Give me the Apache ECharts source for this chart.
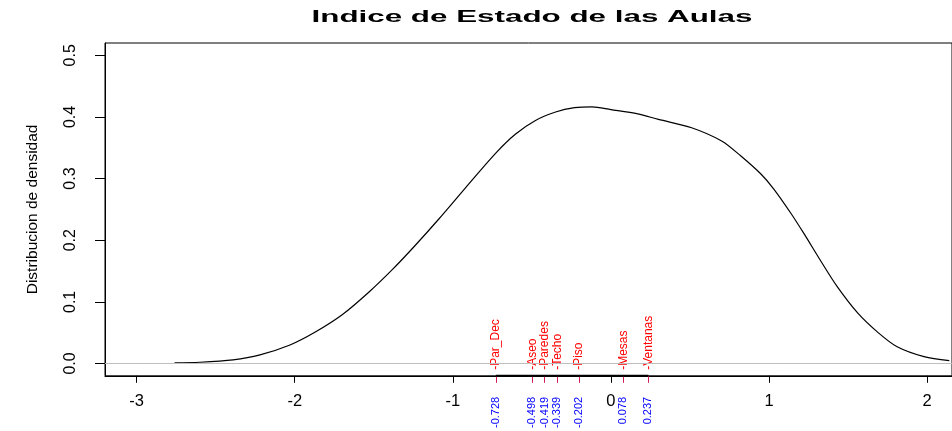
<!DOCTYPE html>
<html>
<head>
<meta charset="utf-8">
<script src="https://cdn.jsdelivr.net/npm/echarts@6/dist/echarts.min.js"></script>
<style>html,body{margin:0;padding:0;background:#fff}#c{width:952px;height:431px}</style>
</head>
<body>
<div id="c"></div>
<script>
// ---- data ----
const titleText = 'Indice de Estado de las Aulas';
const yAxisTitle = 'Distribucion de densidad';
const densX = [-2.76, -2.60, -2.39, -2.22, -2.03, -1.87, -1.70, -1.53, -1.38, -1.24, -1.09, -0.92, -0.73, -0.605, -0.48, -0.35, -0.23, -0.12, 0.00, 0.17, 0.30, 0.51, 0.70, 0.82, 0.95, 1.03, 1.14, 1.22, 1.33, 1.43, 1.56, 1.69, 1.81, 1.98, 2.14];
const densY = [0.001, 0.002, 0.006, 0.014, 0.030, 0.051, 0.079, 0.116, 0.153, 0.191, 0.234, 0.285, 0.341, 0.372, 0.394, 0.408, 0.415, 0.4165, 0.412, 0.405, 0.396, 0.3825, 0.361, 0.337, 0.307, 0.283, 0.243, 0.211, 0.165, 0.125, 0.082, 0.050, 0.027, 0.011, 0.0047];
const markerNames = ['Par_Dec', 'Aseo', 'Paredes', 'Techo', 'Piso', 'Mesas', 'Ventanas'];
const markerValues = [-0.728, -0.498, -0.419, -0.339, -0.202, 0.078, 0.237];
const xTicks = [-3, -2, -1, 0, 1, 2];
const yTicks = [0, 0.1, 0.2, 0.3, 0.4, 0.5];

// ---- axis ranges ----
const X_MIN = -3.2, X_MAX = 2.157;
const Y_MIN = -0.02, Y_MAX = 0.52;
const FONT = 'Liberation Sans';

const chart = echarts.init(document.getElementById('c'), null, {renderer: 'canvas'});

function nameFor(v) {
  let best = 0, d = Infinity;
  markerValues.forEach((m, i) => { const dd = Math.abs(m - v); if (dd < d) { d = dd; best = i; } });
  return '-' + markerNames[best];
}

const densData = densX.map((x, i) => [x, densY[i]]);
const segData = [[Math.min(...markerValues), Y_MIN], [Math.max(...markerValues), Y_MIN]];

const option = {
  animation: false,
  backgroundColor: '#ffffff',
  graphic: [{
    type: 'text',
    x: 532, y: 18, scaleX: 1.96,
    style: {
      text: titleText,
      font: 'bold 16px "Liberation Sans"',
      fill: '#000',
      textAlign: 'center',
      textVerticalAlign: 'middle'
    }
  }],
  grid: {left: 105, top: 43, right: -3, bottom: 53, show: true, borderColor: '#000', borderWidth: 1, backgroundColor: 'transparent'},
  xAxis: [
    {
      type: 'value', min: X_MIN, max: X_MAX, position: 'bottom',
      axisLine: {show: true, onZero: false, lineStyle: {color: '#000', width: 1}},
      axisTick: {show: true, length: 7, lineStyle: {color: '#000'}, customValues: xTicks},
      axisLabel: {show: true, customValues: xTicks, margin: 17, fontSize: 16.5, fontFamily: FONT, color: '#000',
        formatter: v => String(v)},
      splitLine: {show: false}
    },
    {
      type: 'value', min: X_MIN, max: X_MAX, position: 'bottom', offset: 0,
      axisLine: {show: false, onZero: false},
      axisTick: {show: true, length: 7, lineStyle: {color: '#d01c5a', width: 1}, customValues: markerValues},
      axisLabel: {show: true, customValues: markerValues, rotate: 90, margin: 21, fontSize: 11, fontFamily: FONT,
        color: '#0000ff', padding: [5, 0, 0, 0], formatter: v => v.toFixed(3)},
      splitLine: {show: false}
    },
    {
      type: 'value', min: X_MIN, max: X_MAX, position: 'bottom', offset: 0,
      axisLine: {show: false, onZero: false},
      axisTick: {show: false},
      axisLabel: {show: true, inside: true, customValues: markerValues, rotate: 90, margin: 6, fontSize: 12, fontFamily: FONT,
        color: '#ff0000', padding: [4, 0, 0, 0], formatter: v => nameFor(v)},
      splitLine: {show: false}
    }
  ],
  yAxis: {
    type: 'value', min: Y_MIN, max: Y_MAX,
    name: yAxisTitle, nameLocation: 'middle', nameRotate: 90, nameGap: 64,
    nameTextStyle: {fontSize: 15.5, fontFamily: FONT, color: '#000'},
    axisLine: {show: true, onZero: false, lineStyle: {color: '#000'}},
    axisTick: {show: true, length: 10, lineStyle: {color: '#000'}, customValues: yTicks},
    axisLabel: {show: true, customValues: yTicks, rotate: 90, margin: 26, fontSize: 16, fontFamily: FONT, color: '#000',
      formatter: v => v.toFixed(1)},
    splitLine: {show: false}
  },
  series: [
    {
      type: 'line', xAxisIndex: 0, data: densData, smooth: 0.3, showSymbol: false, symbol: 'none',
      lineStyle: {color: '#000', width: 1.2}, z: 3,
      markLine: {silent: true, symbol: ['none', 'none'], label: {show: false},
        lineStyle: {color: '#bebebe', type: 'solid', width: 1}, data: [{yAxis: 0}]}
    },
    {
      type: 'line', xAxisIndex: 0, data: segData, showSymbol: false, symbol: 'none', clip: false,
      lineStyle: {color: '#000', width: 2}, z: 4
    }
  ]
};
chart.setOption(option);
</script>
</body>
</html>
